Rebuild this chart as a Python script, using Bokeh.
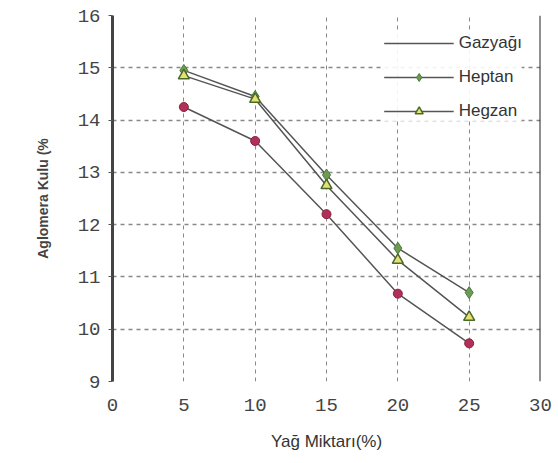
from bokeh.plotting import figure
from bokeh.models import Range1d, Span, Legend, LegendItem, FixedTicker
from bokeh.embed import file_html
from bokeh.resources import INLINE

# data
x_vals = [5, 10, 15, 20, 25]
gazyagi = [14.25, 13.6, 12.2, 10.68, 9.73]
heptan = [14.95, 14.45, 12.95, 11.55, 10.70]
hegzan = [14.85, 14.40, 12.75, 11.32, 10.23]
x_ticks = [0, 5, 10, 15, 20, 25, 30]
y_ticks = [9, 10, 11, 12, 13, 14, 15, 16]
series_names = ["Gazyağı", "Heptan", "Hegzan"]

p = figure(width=558, height=463, output_backend="svg", toolbar_location=None,
           x_range=Range1d(0, 30), y_range=Range1d(9, 16),
           min_border_left=112, min_border_right=18, min_border_top=15, min_border_bottom=82)
p.background_fill_color = "white"
p.border_fill_color = "white"
p.outline_line_color = None

# grid
p.xaxis.ticker = FixedTicker(ticks=x_ticks)
p.yaxis.ticker = FixedTicker(ticks=y_ticks)
p.xgrid.grid_line_color = "#888888"
p.xgrid.grid_line_dash = "4 4"
p.ygrid.grid_line_color = "#888888"
p.ygrid.grid_line_dash = "4 4"
p.ygrid.grid_line_width = 1.5

# axes
for ax in (p.xaxis[0], p.yaxis[0]):
    ax.major_label_text_font = "Liberation Mono"
    ax.major_label_text_font_size = "19px"
    ax.major_label_text_color = "#444444"
    ax.minor_tick_line_color = None
    ax.major_tick_line_color = "#555555"
    ax.major_tick_out = 4
    ax.major_tick_in = 0
p.xaxis.axis_line_color = None
p.xaxis.major_tick_line_color = None
p.yaxis.axis_line_color = "#444444"
p.yaxis.axis_line_width = 3
p.xaxis.major_label_standoff = 13
p.yaxis.major_label_standoff = 8

p.xaxis.axis_label = "Yağ Miktarı(%)"
p.xaxis.axis_label_text_font = "Liberation Sans"
p.xaxis.axis_label_text_font_style = "normal"
p.xaxis.axis_label_text_font_size = "17px"
p.xaxis.axis_label_text_color = "#333333"
p.xaxis.axis_label_standoff = 18

p.yaxis.axis_label = "Aglomera Kulu (%"
p.yaxis.axis_label_text_font = "Liberation Sans"
p.yaxis.axis_label_text_font_style = "bold"
p.yaxis.axis_label_text_font_size = "14px"
p.yaxis.axis_label_text_color = "#444444"
p.yaxis.axis_label_standoff = 24

p.add_layout(Span(location=30, dimension="height", line_color="#222222", line_width=2))

line_color = "#555555"
r1l = p.line(x_vals, gazyagi, line_color=line_color, line_width=1.5)
r1m = p.scatter(x_vals, gazyagi, marker="circle", size=9, fill_color="#b0305a",
                line_color="#8a2040")
r2l = p.line(x_vals, heptan, line_color=line_color, line_width=1.5)
r2m = p.scatter(x_vals, heptan, marker="diamond", size=12, fill_color="#6f9a55",
                line_color="#4a7a3a")
r3l = p.line(x_vals, hegzan, line_color=line_color, line_width=1.5)
r3m = p.scatter(x_vals, hegzan, marker="triangle", size=11, fill_color="#e8e070",
                line_color="#4a6a2a", line_width=1.5)

legend = Legend(items=[
    LegendItem(label=series_names[0], renderers=[r1l]),
    LegendItem(label=series_names[1], renderers=[r2l, r2m]),
    LegendItem(label=series_names[2], renderers=[r3l, r3m]),
], location="top_right")
legend.background_fill_color = "white"
legend.background_fill_alpha = 0.9
legend.border_line_color = None
legend.label_text_font = "Liberation Sans"
legend.label_text_font_size = "17px"
legend.label_text_color = "#333333"
legend.glyph_width = 70
legend.spacing = 14
legend.margin = 18
p.add_layout(legend)

open("out.html", "w").write(file_html(p, INLINE))
